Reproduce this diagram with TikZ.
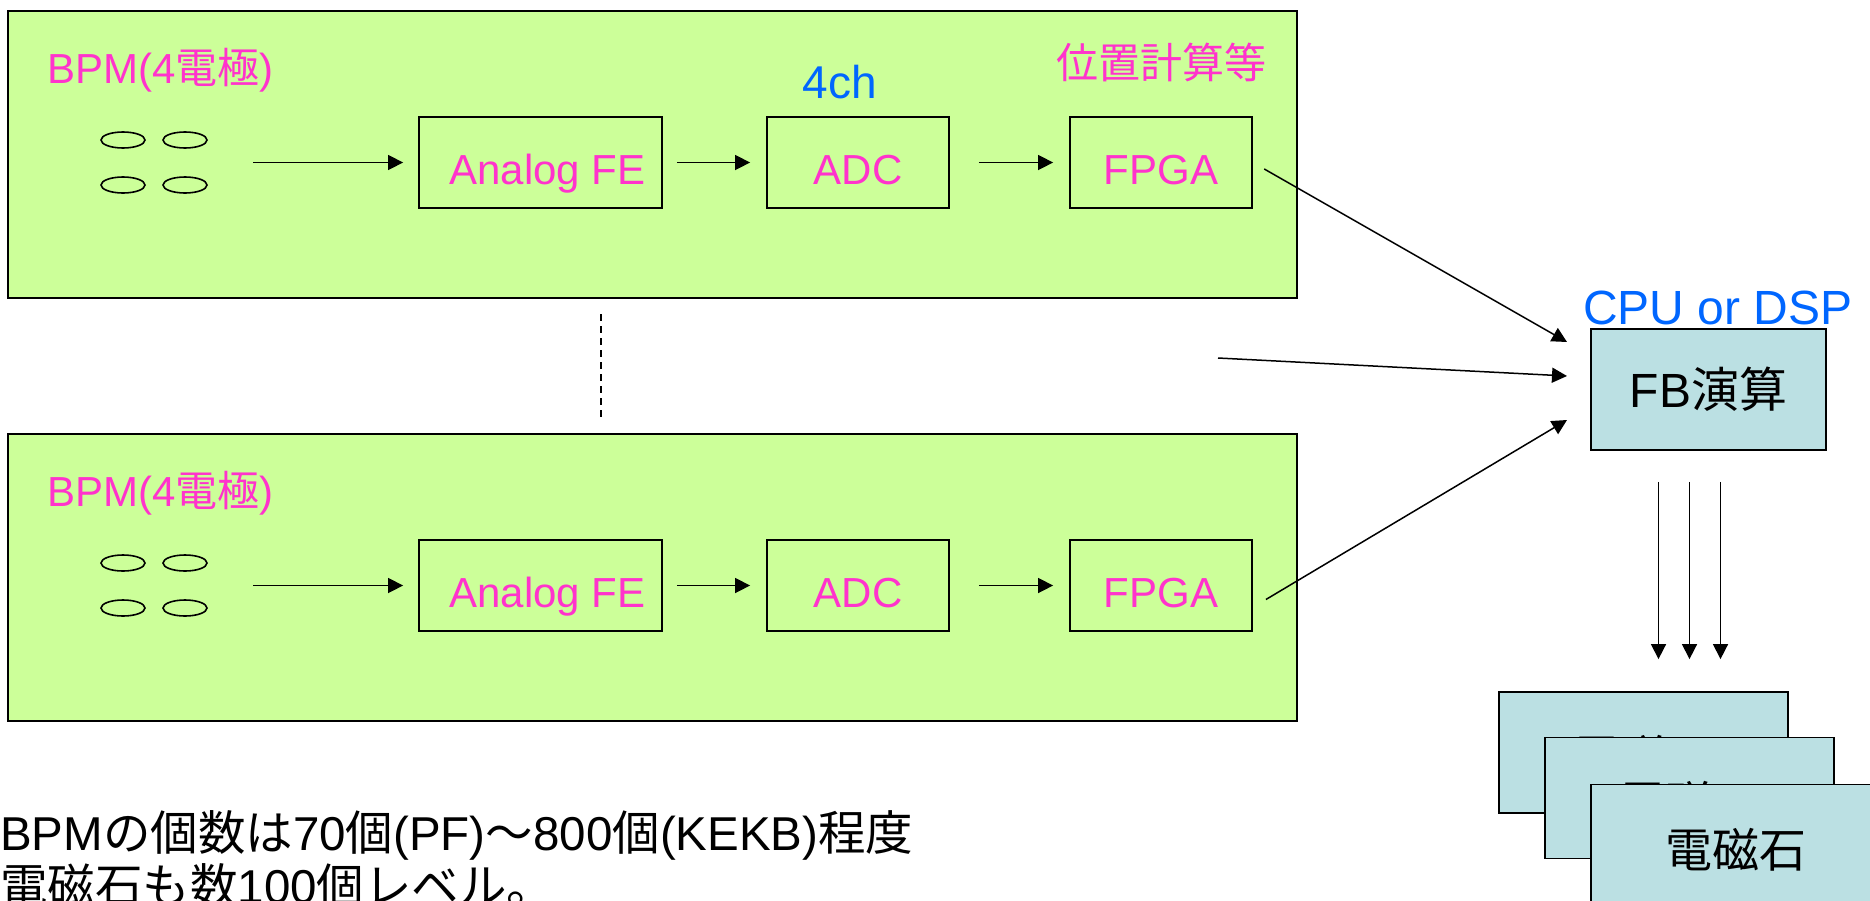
\documentclass[tikz,border=0pt]{standalone}
\usepackage{fontspec}
\setmainfont{Liberation Sans}
\newfontfamily\jpfont{Noto Sans CJK JP}
\newcommand{\jp}[1]{{\jpfont #1}}
\usetikzlibrary{arrows.meta}
\definecolor{grpgreen}{RGB}{204,255,153}
\definecolor{lblpink}{RGB}{255,51,204}
\definecolor{lblblue}{RGB}{0,102,255}
\definecolor{boxblue}{RGB}{187,224,227}
\begin{document}
\begin{tikzpicture}[x=1pt,y=-1pt,
    grp/.style={draw, line width=2pt, fill=grpgreen, inner sep=0pt,
        minimum width=1289pt, minimum height=287pt},
    stage/.style={draw, line width=1.8pt, inner sep=0pt, minimum height=91pt,
        text height=44pt, text depth=0pt,
        text=lblpink, font=\fontsize{42}{50}\selectfont},
    calc/.style={draw, line width=1.8pt, fill=boxblue, inner sep=0pt,
        font=\fontsize{48}{56}\selectfont},
    magnet/.style={calc, minimum width=289pt, minimum height=121pt,
        text height=48pt, text depth=4pt, font=\fontsize{47}{54}\selectfont},
    electrode/.style={line width=1.6pt},
    link/.style={-{Triangle[length=15pt,width=15pt]}, line width=1.5pt},
    pinklbl/.style={text=lblpink, inner sep=0pt, font=\fontsize{42}{50}\selectfont},
    bluelbl/.style={text=lblblue, inner sep=0pt, font=\fontsize{46}{54}\selectfont}
]
    \useasboundingbox (0,0) rectangle (1870,900);

    % upper BPM chain
    \node[grp] (grpA) at (652.5,154.5) {};
    \node[pinklbl, anchor=base west] (bpmlblA) at (47,83) {BPM(4\jp{電極})};
    \draw[electrode] (123,140) ellipse (22pt and 8pt);
    \draw[electrode] (185,140) ellipse (22pt and 8pt);
    \draw[electrode] (123,185) ellipse (22pt and 8pt);
    \draw[electrode] (185,185) ellipse (22pt and 8pt);
    \coordinate (bpmA) at (253,162.5);
    \node[stage, minimum width=243pt] (afeA) at (540.5,162.5) {\hspace{14pt}Analog FE};
    \node[stage, minimum width=182pt] (adcA) at (858,162.5) {ADC\hspace{16pt}};
    \node[stage, minimum width=182pt] (fpgaA) at (1161,162.5) {FPGA\hspace{16pt}};
    \node[bluelbl, anchor=base] (chlbl) at (840,98) {4ch};
    \node[pinklbl, anchor=base west] (poslbl) at (1056,78) {\jp{位置計算等}};
    \draw[link, shorten >=15pt] (bpmA) -- (afeA.west);
    \draw[link, shorten <=14pt, shorten >=16pt] (afeA.east) -- (adcA.west);
    \draw[link, shorten <=29pt, shorten >=16pt] (adcA.east) -- (fpgaA.west);

    % lower BPM chain
    \node[grp] (grpB) at (652.5,577.5) {};
    \node[pinklbl, anchor=base west] (bpmlblB) at (47,506) {BPM(4\jp{電極})};
    \draw[electrode] (123,563) ellipse (22pt and 8pt);
    \draw[electrode] (185,563) ellipse (22pt and 8pt);
    \draw[electrode] (123,608) ellipse (22pt and 8pt);
    \draw[electrode] (185,608) ellipse (22pt and 8pt);
    \coordinate (bpmB) at (253,585.5);
    \node[stage, minimum width=243pt] (afeB) at (540.5,585.5) {\hspace{14pt}Analog FE};
    \node[stage, minimum width=182pt] (adcB) at (858,585.5) {ADC\hspace{16pt}};
    \node[stage, minimum width=182pt] (fpgaB) at (1161,585.5) {FPGA\hspace{16pt}};
    \draw[link, shorten >=15pt] (bpmB) -- (afeB.west);
    \draw[link, shorten <=14pt, shorten >=16pt] (afeB.east) -- (adcB.west);
    \draw[link, shorten <=29pt, shorten >=16pt] (adcB.east) -- (fpgaB.west);

    % more BPMs in between
    \draw[line width=2pt, dash pattern=on 7pt off 5pt] (601,314) -- (601,420);

    % feedback processor
    \node[calc, minimum width=235pt, minimum height=121pt] (fb) at (1708.5,389.5) {FB\jp{演算}};
    \node[bluelbl, anchor=base west, font=\fontsize{48}{56}\selectfont] (cpulbl) at (1583,324) {CPU or DSP};
    \coordinate (fbinA) at (1567,342);
    \coordinate (fbinM) at (1567,376);
    \coordinate (fbinB) at (1567,420);
    \coordinate (others) at (1218,358);
    \draw[link, shorten <=13pt] (fpgaA.east) -- (fbinA);
    \draw[link] (others) -- (fbinM);
    \draw[link] ([xshift=13pt,yshift=-14pt]fpgaB.east) -- (fbinB);

    % magnets
    \node[magnet] (magA) at (1643.5,752.5) {\jp{電磁石}};
    \node[magnet] (magB) at (1689.5,798) {\jp{電磁石}};
    \node[magnet] (magC) at (1735.5,845) {\jp{電磁石}};
    \draw[link, shorten <=31pt, shorten >=32pt] ([xshift=-50pt]fb.south) -- ([xshift=-50pt]fb.south |- magA.north);
    \draw[link, shorten <=31pt, shorten >=32pt] ([xshift=-19pt]fb.south) -- ([xshift=-19pt]fb.south |- magA.north);
    \draw[link, shorten <=31pt, shorten >=32pt] ([xshift=12pt]fb.south) -- ([xshift=12pt]fb.south |- magA.north);

    % note
    \node[anchor=base west, inner sep=0pt, align=left, font=\fontsize{47.5}{53}\selectfont] (note) at (0,903)
        {BPM\jp{の個数は}70\jp{個}(PF)\jp{～}800\jp{個}(KEKB)\jp{程度}\\\jp{電磁石も数}100\jp{個レベル。}};
\end{tikzpicture}
\end{document}
